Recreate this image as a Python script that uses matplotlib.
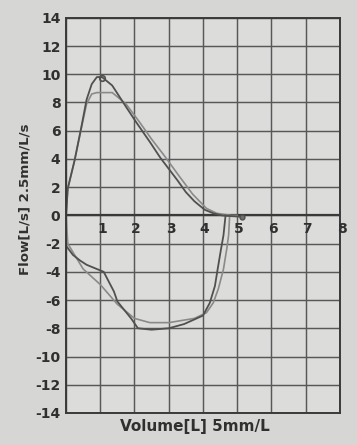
import matplotlib
matplotlib.use("Agg")
import matplotlib.pyplot as plt

# Data
exp_meas_x = [0.0, 0.05, 0.25, 0.45, 0.6, 0.75, 0.9, 1.05, 1.35, 1.75, 2.05, 2.45, 2.75, 3.0, 3.25, 3.5, 3.75, 4.05, 4.3, 4.55, 4.8, 5.15]
exp_meas_y = [0.0, 1.9, 3.9, 6.3, 8.2, 9.3, 9.8, 9.8, 9.2, 7.7, 6.6, 5.2, 4.1, 3.3, 2.5, 1.65, 1.0, 0.4, 0.15, 0.0, -0.05, -0.1]
exp_pred_x = [0.0, 0.05, 0.25, 0.45, 0.6, 0.75, 0.9, 1.35, 1.75, 2.15, 2.5, 2.85, 3.3, 3.7, 4.1, 4.4, 4.8, 5.0]
exp_pred_y = [0.0, 1.9, 3.9, 6.2, 7.9, 8.6, 8.7, 8.7, 7.9, 6.6, 5.4, 4.3, 2.8, 1.5, 0.5, 0.15, 0.0, 0.0]

insp_meas_x = [0.0, -0.03, 0.2, 0.41, 0.6, 0.8, 1.1, 1.4, 1.5, 1.9, 2.1, 2.5, 3.0, 3.45, 4.0, 4.2, 4.35, 4.43, 4.52, 4.6, 4.66]
insp_meas_y = [0.0, -2.05, -2.8, -3.2, -3.5, -3.7, -4.0, -5.4, -6.1, -7.3, -8.0, -8.1, -8.0, -7.7, -7.1, -6.2, -5.0, -3.8, -2.5, -1.4, 0.0]
insp_pred_x = [0.0, 0.05, 0.5, 1.0, 1.5, 2.0, 2.45, 3.0, 3.75, 4.1, 4.3, 4.45, 4.6, 4.7, 4.75, 4.78]
insp_pred_y = [0.0, -2.0, -3.8, -4.9, -6.3, -7.3, -7.6, -7.6, -7.3, -6.9, -6.2, -5.2, -3.8, -2.3, -1.4, 0.0]

peak_marker = (1.05, 9.75)
end_marker = (5.15, -0.1)

x_ticks = [1, 2, 3, 4, 5, 6, 7, 8]
y_ticks = [14, 12, 10, 8, 6, 4, 2, 0, -2, -4, -6, -8, -10, -12, -14]

fig = plt.figure(figsize=(3.57, 4.45), dpi=100, facecolor='#d6d6d4')
ax = fig.add_axes([0.185, 0.072, 0.767, 0.888])
ax.set_facecolor('#dcdcda')
ax.set_xlim(0, 8)
ax.set_ylim(-14, 14)

grid_c = '#585858'
for xv in range(0, 9):
    ax.axvline(xv, color=grid_c, lw=1.05, zorder=1)
for yv in y_ticks:
    ax.axhline(yv, color=grid_c, lw=1.05, zorder=1)
ax.axhline(0, color='#3a3a3a', lw=1.6, zorder=1)

for s in ax.spines.values():
    s.set_color('#3a3a3a')
    s.set_linewidth(1.4)

ax.set_xticks([])
ax.set_yticks(y_ticks)
ax.set_yticklabels([str(v) for v in y_ticks], fontsize=10, fontweight='bold', color='#303030')
ax.tick_params(axis='y', length=0, pad=4)

for xv in x_ticks:
    ax.text(xv + 0.05, -0.45, str(xv), ha='center', va='top', fontsize=10,
            fontweight='bold', color='#303030', zorder=3)

ax.plot(exp_pred_x, exp_pred_y, color='#8a8a8a', lw=1.2, zorder=2)
ax.plot(insp_pred_x, insp_pred_y, color='#8a8a8a', lw=1.2, zorder=2)
ax.plot(exp_meas_x, exp_meas_y, color='#505050', lw=1.3, zorder=2)
ax.plot(insp_meas_x, insp_meas_y, color='#505050', lw=1.3, zorder=2)
ax.plot([peak_marker[0]], [peak_marker[1]], marker='o', ms=4, mfc='none', mec='#505050', mew=1.2, zorder=3)
ax.plot([end_marker[0]], [end_marker[1]], marker='o', ms=3.5, mfc='#707070', mec='#505050', zorder=3)

ax.set_xlabel('Volume[L] 5mm/L', fontsize=11, fontweight='bold', color='#303030')
ax.set_ylabel('Flow[L/s] 2.5mm/L/s', fontsize=9.6, fontweight='bold', color='#303030')
ax.xaxis.set_label_coords(0.47, -0.015, transform=ax.transAxes)
ax.xaxis.label.set_va('top')
ax.yaxis.set_label_coords(-0.125, 0.54, transform=ax.transAxes)

fig.savefig('out.png', dpi=100, facecolor=fig.get_facecolor())
